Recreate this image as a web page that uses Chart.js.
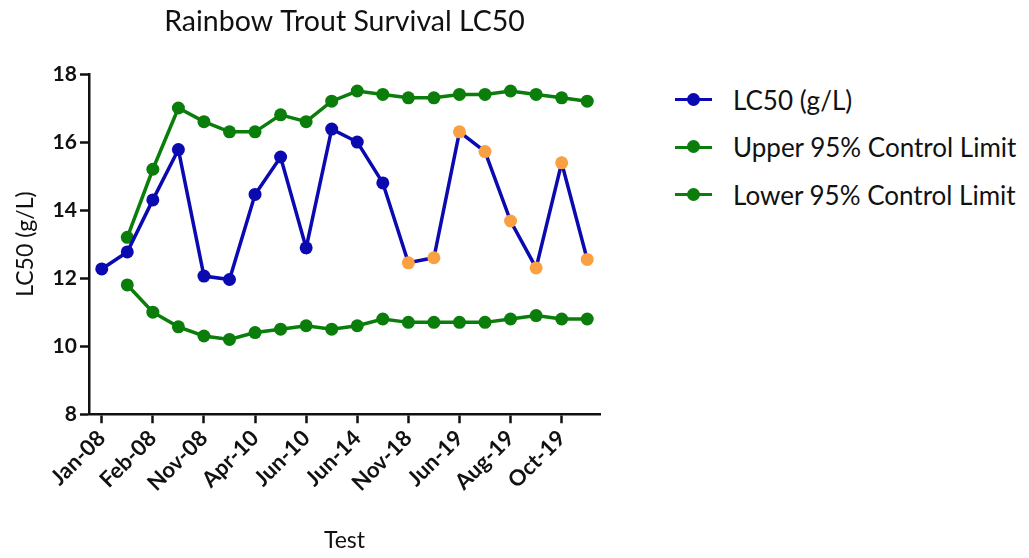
<!DOCTYPE html>
<html>
<head>
<meta charset="utf-8">
<script src="https://cdn.jsdelivr.net/npm/chart.js@4/dist/chart.umd.min.js"></script>
<style>
  html, body { margin: 0; padding: 0; background: #fff; }
  .wrap { position: relative; width: 1029px; height: 558px; font-family: Lato, sans-serif; }
  .plot { position: absolute; left: 0; top: 0; width: 640px; height: 558px; }
  .legend { position: absolute; left: 675px; top: 76px; }
  .legend-item { display: flex; align-items: center; height: 47.5px; font-size: 26px; color: #111; }
  .mark { position: relative; width: 37px; height: 14px; margin-right: 21px; }
  .mark .ln { position: absolute; left: 0; right: 0; top: 5.5px; height: 3px; }
  .mark .dot { position: absolute; left: 12px; top: 0; width: 13px; height: 13px; border-radius: 50%; }
</style>
</head>
<body>
<div class="wrap">
  <div class="plot"><canvas id="chart" width="640" height="558"></canvas></div>
  <div class="legend" id="legend"></div>
</div>
<script>
const chartTitle = 'Rainbow Trout Survival LC50';
const xTitle = 'Test';
const yTitle = 'LC50 (g/L)';

// only every other test date is labelled on the axis
const tests = ['Jan-08', '', 'Feb-08', '', 'Nov-08', '', 'Apr-10', '', 'Jun-10', '',
               'Jun-14', '', 'Nov-18', '', 'Jun-19', '', 'Aug-19', '', 'Oct-19', ''];

const lc50 = [12.27, 12.77, 14.3, 15.78, 12.06, 11.96, 14.46, 15.56, 12.89, 16.38,
              16.0, 14.8, 12.45, 12.6, 16.3, 15.72, 13.68, 12.3, 15.39, 12.55];
// 1 = point shown in orange
const lc50Flag = [0, 0, 0, 0, 0, 0, 0, 0, 0, 0, 0, 0, 1, 1, 1, 1, 1, 1, 1, 1];

const upper = [null, 13.2, 15.2, 17.0, 16.6, 16.3, 16.3, 16.8, 16.6, 17.2,
               17.5, 17.4, 17.3, 17.3, 17.4, 17.4, 17.5, 17.4, 17.3, 17.2];
const lower = [null, 11.8, 11.0, 10.57, 10.3, 10.2, 10.4, 10.5, 10.6, 10.5,
               10.6, 10.8, 10.7, 10.7, 10.7, 10.7, 10.8, 10.9, 10.8, 10.8];

const seriesNames = ['LC50 (g/L)', 'Upper 95% Control Limit', 'Lower 95% Control Limit'];

const BLUE = '#0a0ab0';
const GREEN = '#0a7d0a';
const ORANGE = '#f9a043';
const FONT = 'Lato, sans-serif';

function lineSet(label, data, color) {
    return {
        label,
        data,
        borderColor: color,
        backgroundColor: color,
        pointBackgroundColor: color,
        pointBorderColor: color,
        borderWidth: 3.5,
        pointRadius: 6.5,
        pointBorderWidth: 0,
        tension: 0,
        spanGaps: false
    };
}

const lcSet = lineSet(seriesNames[0], lc50, BLUE);
lcSet.pointBackgroundColor = lc50Flag.map(f => f ? ORANGE : BLUE);
lcSet.pointBorderColor = lc50Flag.map(f => f ? ORANGE : BLUE);

const datasets = [
    lcSet,
    lineSet(seriesNames[1], upper, GREEN),
    lineSet(seriesNames[2], lower, GREEN)
];

// title centred over the plot area
const titlePlugin = {
    id: 'plotTitle',
    afterDraw(chart) {
        const { ctx, chartArea } = chart;
        ctx.save();
        ctx.font = '28.5px ' + FONT;
        ctx.fillStyle = '#111';
        ctx.textAlign = 'center';
        ctx.textBaseline = 'middle';
        ctx.fillText(chartTitle, (chartArea.left + chartArea.right) / 2, 22);
        ctx.restore();
    }
};

new Chart(document.getElementById('chart'), {
    type: 'line',
    data: { labels: tests, datasets },
    options: {
        responsive: false,
        animation: false,
        layout: { padding: { top: 74, right: 40, left: 8, bottom: 0 } },
        plugins: {
            legend: { display: false },
            tooltip: { enabled: false }
        },
        scales: {
            x: {
                offset: true,
                border: { color: '#111', width: 2.5 },
                grid: {
                    display: true,
                    drawOnChartArea: false,
                    drawTicks: true,
                    tickLength: 9,
                    tickWidth: 2.5,
                    tickColor: '#111'
                },
                ticks: {
                    autoSkip: false,
                    minRotation: 45,
                    maxRotation: 45,
                    color: '#111',
                    padding: 2,
                    font: { family: FONT, size: 22, weight: 'bold' },
                    callback: (v, i) => (i % 2 === 0 ? tests[i] : null)
                },
                title: {
                    display: true,
                    text: xTitle,
                    color: '#111',
                    padding: { top: 28 },
                    font: { family: FONT, size: 23 }
                }
            },
            y: {
                min: 8,
                max: 18,
                border: { color: '#111', width: 2.5 },
                grid: {
                    display: true,
                    drawOnChartArea: false,
                    drawTicks: true,
                    tickLength: 9,
                    tickWidth: 2.5,
                    tickColor: '#111'
                },
                ticks: {
                    stepSize: 2,
                    color: '#111',
                    padding: 3,
                    font: { family: FONT, size: 21, weight: 'bold' }
                },
                title: {
                    display: true,
                    text: yTitle,
                    color: '#111',
                    padding: { bottom: 10 },
                    font: { family: FONT, size: 23 }
                }
            }
        }
    },
    plugins: [titlePlugin]
});

// legend drawn as html next to the canvas
const legendEl = document.getElementById('legend');
datasets.forEach(ds => {
    const item = document.createElement('div');
    item.className = 'legend-item';
    const color = ds.borderColor;
    item.innerHTML = '<span class="mark"><span class="ln" style="background:' + color +
        '"></span><span class="dot" style="background:' + color + '"></span></span>' +
        '<span>' + ds.label + '</span>';
    legendEl.appendChild(item);
});
</script>
</body>
</html>
